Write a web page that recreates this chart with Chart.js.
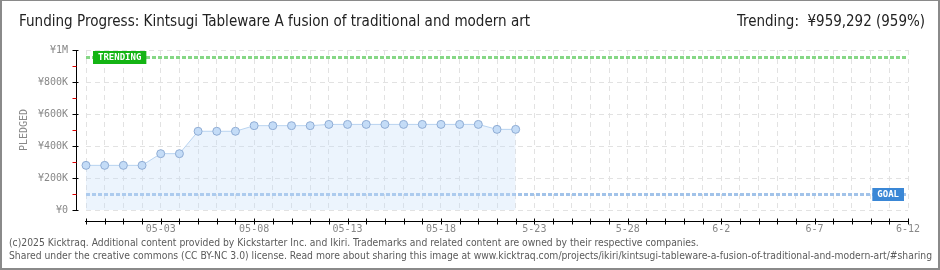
<!DOCTYPE html>
<html>
<head>
<meta charset="utf-8">
<script src="https://cdn.jsdelivr.net/npm/chart.js@4"></script>
<style>
  body { margin: 0; background: #fff; }
  #wrap { position: relative; width: 940px; height: 270px; overflow: hidden; background: #fff; }
  #chart { position: absolute; left: 0; top: 0; }
  .txt { position: absolute; white-space: nowrap; transform-origin: 0 0; }
  #title { left: 19px; top: 11px; font: 16px "Liberation Sans Narrow", "DejaVu Sans Condensed", sans-serif; color: #222; }
  #trend { top: 11px; font: 16px "Liberation Sans Narrow", "DejaVu Sans Condensed", sans-serif; color: #222; }
  .foot { left: 9px; font: 10px "DejaVu Sans Condensed", sans-serif; color: #5a5a5a; }
  #frame { position: absolute; left: 0; top: 0; width: 940px; height: 270px; box-sizing: border-box;
           border: 2px solid #8a8a8a; border-top-width: 1px; pointer-events: none; }
</style>
</head>
<body>
<div id="wrap">
  <canvas id="chart" width="940" height="270"></canvas>
  <div id="title" class="txt">Funding Progress: Kintsugi Tableware A fusion of traditional and modern art</div>
  <div id="trend" class="txt">Trending:&nbsp; ¥959,292 (959%)</div>
  <div id="foot1" class="txt foot" style="top:237px">(c)2025 Kicktraq. Additional content provided by Kickstarter Inc. and Ikiri. Trademarks and related content are owned by their respective companies.</div>
  <div id="foot2" class="txt foot" style="top:250px">Shared under the creative commons (CC BY-NC 3.0) license. Read more about sharing this image at www.kicktraq.com/projects/ikiri/kintsugi-tableware-a-fusion-of-traditional-and-modern-art/#sharing</div>
  <div id="frame"></div>
</div>
<script>
// days shown on the x axis
var days = ['04-29','04-30','05-01','05-02','05-03','05-04','05-05','05-06','05-07','05-08',
            '05-09','05-10','05-11','05-12','05-13','05-14','05-15','05-16','05-17','05-18',
            '05-19','05-20','05-21','05-22','05-23','05-24','05-25','05-26','05-27','05-28',
            '05-29','05-30','05-31','06-01','06-02','06-03','06-04','06-05','06-06','06-07',
            '06-08','06-09','06-10','06-11','06-12'];
// tick text as printed on the chart
var tickText = {'05-03':'05-03','05-08':'05-08','05-13':'05-13','05-18':'05-18',
                '05-23':'5-23','05-28':'5-28','06-02':'6-2','06-07':'6-7','06-12':'6-12'};
// pledged amount per day (yen)
var pledged = [279000,279000,279000,279000,352000,352000,492000,492000,492000,527000,
               527000,527000,527000,535000,535000,535000,535000,535000,535000,535000,
               535000,535000,504000,504000];
var goal = 100000;
var trending = 959292;
var yLabels = {0:'¥0',200000:'¥200K',400000:'¥400K',600000:'¥600K',800000:'¥800K',1000000:'¥1M'};

var tickFont = { family: '"DejaVu Sans Mono", monospace', size: 10 };

// fit header/footer text to the width seen in the picture
function fit(id, w) {
  var el = document.getElementById(id);
  el.style.transform = 'scaleX(' + (w / el.offsetWidth) + ')';
  return w / el.offsetWidth;
}
fit('title', 511);
var tr = document.getElementById('trend');
var trs = 188 / tr.offsetWidth;
tr.style.left = (925 - 188) + 'px';
tr.style.transform = 'scaleX(' + trs + ')';
var fs = fit('foot1', 690);
document.getElementById('foot2').style.transform = 'scaleX(' + fs + ')';

var axesPlugin = {
  id: 'kickAxes',
  beforeDatasetsDraw: function(chart) {
    var ctx = chart.ctx, a = chart.chartArea;
    var ys = chart.scales.y;
    ctx.save();
    // trending and goal lines
    [[trending, '#86d786'], [goal, '#a2c3e9']].forEach(function(l) {
      var y = Math.round(ys.getPixelForValue(l[0])) + 0.5;
      ctx.strokeStyle = l[1];
      ctx.lineWidth = 3;
      ctx.setLineDash([4, 2]);
      ctx.beginPath();
      ctx.moveTo(a.left, y);
      ctx.lineTo(a.right, y);
      ctx.stroke();
    });
    ctx.restore();
  },
  afterDraw: function(chart) {
    var ctx = chart.ctx, a = chart.chartArea;
    var xs = chart.scales.x, ys = chart.scales.y;
    ctx.save();
    ctx.setLineDash([]);
    // y axis
    var ax = a.left - 9.5;
    ctx.strokeStyle = '#000';
    ctx.lineWidth = 1;
    ctx.beginPath();
    ctx.moveTo(ax, ys.getPixelForValue(1000000));
    ctx.lineTo(ax, ys.getPixelForValue(0));
    ctx.stroke();
    for (var v = 0; v <= 1000000; v += 100000) {
      var y = Math.round(ys.getPixelForValue(v)) + 0.5;
      ctx.strokeStyle = (v % 200000 === 0) ? '#000' : '#e00000';
      ctx.beginPath();
      ctx.moveTo(ax - 4, y);
      ctx.lineTo(ax + (v % 200000 === 0 ? 2 : 0), y);
      ctx.stroke();
    }
    // x axis
    var ay = a.bottom + 11.5;
    ctx.strokeStyle = '#000';
    ctx.beginPath();
    ctx.moveTo(a.left - 1, ay);
    ctx.lineTo(a.right, ay);
    ctx.stroke();
    for (var i = 0; i < days.length; i++) {
      var x = Math.round(xs.getPixelForValue(i)) + 0.5;
      ctx.beginPath();
      ctx.moveTo(x, ay - 3);
      ctx.lineTo(x, ay + 3);
      ctx.stroke();
    }
    // badges
    [['TRENDING', trending, '#14b414', 'left'], ['GOAL', goal, '#3a87d6', 'right']].forEach(function(b) {
      ctx.font = 'bold 9px "DejaVu Sans Mono", monospace';
      var w = ctx.measureText(b[0]).width + 10;
      var h = 13;
      var y = Math.round(ys.getPixelForValue(b[1])) - 6;
      var x = b[3] === 'left' ? a.left + 7 : a.right - 4 - w;
      ctx.fillStyle = b[2];
      ctx.fillRect(x, y, w, h);
      ctx.fillStyle = '#fff';
      ctx.textBaseline = 'middle';
      ctx.textAlign = 'left';
      ctx.fillText(b[0], x + 5, y + h / 2 + 0.5);
    });
    ctx.restore();
  }
};

var chart = new Chart(document.getElementById('chart'), {
  type: 'line',
  data: {
    labels: days,
    datasets: [{
      label: 'Pledged',
      data: pledged,
      borderColor: '#b8d3f0',
      borderWidth: 1,
      backgroundColor: 'rgba(196,222,250,0.32)',
      fill: 'origin',
      tension: 0,
      pointRadius: 4,
      pointBackgroundColor: '#c4dcf7',
      pointBorderColor: '#8facd4',
      pointBorderWidth: 1
    }]
  },
  options: {
    responsive: false,
    animation: false,
    layout: { padding: { left: 0, right: 32, top: 50, bottom: 0 } },
    plugins: { legend: { display: false }, tooltip: { enabled: false } },
    scales: {
      x: {
        offset: false,
        afterFit: function(s) { s.height = 60; },
        grid: { color: '#e2e2e2', drawTicks: false },
        border: { display: false, dash: [5, 4] },
        ticks: {
          autoSkip: false, maxRotation: 0, padding: 13,
          color: '#888', font: tickFont,
          callback: function(v, i) { return tickText[days[i]] || ''; }
        }
      },
      y: {
        min: 0, max: 1000000,
        afterFit: function(s) { s.width = 86; },
        grid: {
          drawTicks: false,
          color: function(c) { return c.tick && c.tick.value % 200000 === 0 ? '#e2e2e2' : 'rgba(0,0,0,0)'; }
        },
        border: { display: false, dash: [5, 4] },
        title: { display: true, text: 'PLEDGED', color: '#888', font: { family: '"DejaVu Sans Mono", monospace', size: 10 }, padding: { top: 18, bottom: 0 } },
        ticks: {
          stepSize: 100000, padding: 18,
          color: '#888', font: tickFont,
          callback: function(v) { return yLabels[v] || ''; }
        }
      }
    }
  },
  plugins: [axesPlugin]
});
</script>
</body>
</html>
